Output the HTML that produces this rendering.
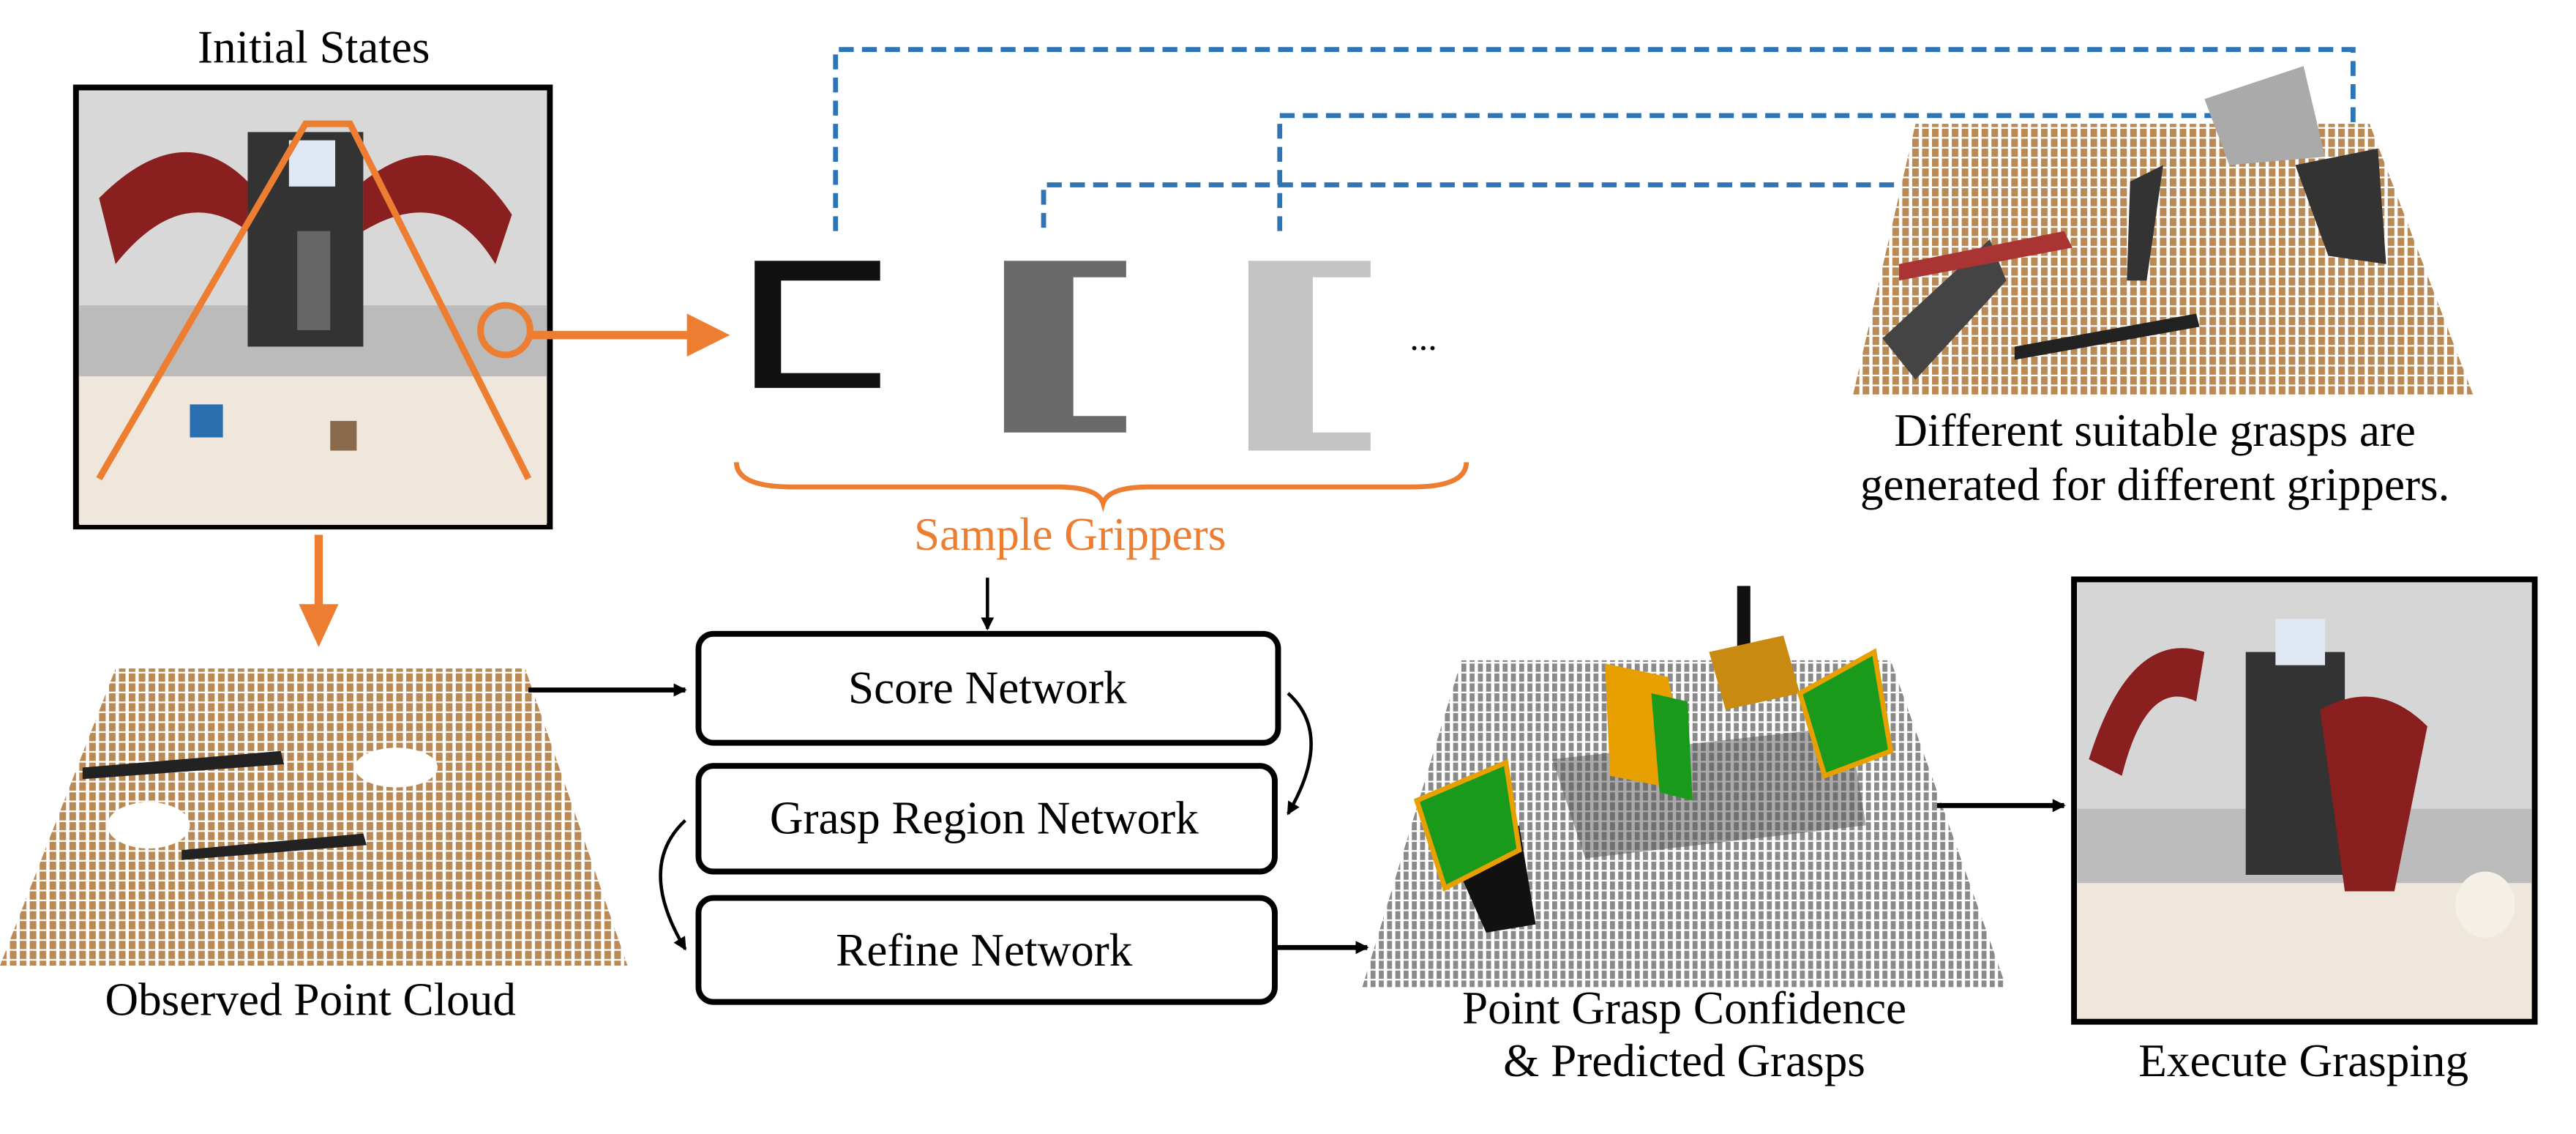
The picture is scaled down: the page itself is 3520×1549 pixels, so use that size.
<!DOCTYPE html>
<html><head><meta charset="utf-8"><style>
html,body{margin:0;padding:0;background:#fff;}
svg{display:block;}
svg text{font-family:"Liberation Serif","Times New Roman",serif;}
</style></head><body>
<svg width="3520" height="1549" viewBox="0 0 1560 687" preserveAspectRatio="none" xmlns="http://www.w3.org/2000/svg" font-family="Liberation Serif, serif">
<defs>
<pattern id="wood" width="6" height="6" patternUnits="userSpaceOnUse">
<rect width="6" height="6" fill="#fff"/><rect width="4" height="5" fill="#b98a55"/>
</pattern>
<pattern id="grey" width="5" height="6" patternUnits="userSpaceOnUse">
<rect width="5" height="6" fill="#fff"/><rect width="3" height="5" fill="#8a8a8a"/>
</pattern>
<marker id="ah" markerWidth="8" markerHeight="8" refX="7" refY="4" orient="auto" markerUnits="userSpaceOnUse">
<path d="M0,0 L8,4 L0,8 z" fill="#000"/></marker>
</defs>

<!-- Initial states -->
<text x="190" y="38" font-size="28" text-anchor="middle" font-family="Liberation Serif, serif">Initial States</text>
<rect x="46" y="53" width="287" height="266" fill="#e9e6e2" stroke="#000" stroke-width="3.5"/>
<rect x="48" y="55" width="283" height="130" fill="#d8d8d8"/>
<rect x="48" y="185" width="283" height="45" fill="#bbb"/>
<rect x="48" y="228" width="283" height="90" fill="#efe6dc"/>
<rect x="150" y="80" width="70" height="130" fill="#333"/>
<rect x="175" y="85" width="28" height="28" fill="#e0e8f4"/>
<path d="M60,120 Q110,70 150,110 L150,140 Q110,110 70,160 z" fill="#8a1f1f"/>
<path d="M220,110 Q270,70 310,130 L300,160 Q270,110 220,140 z" fill="#8a1f1f"/>
<rect x="180" y="140" width="20" height="60" fill="#666"/>
<rect x="115" y="245" width="20" height="20" fill="#2a6fb0"/>
<rect x="200" y="255" width="16" height="18" fill="#8a6a4a"/>
<path d="M60,290 L185,75 L212,75 L320,290" fill="none" stroke="#ed7d31" stroke-width="4"/>
<circle cx="306" cy="200" r="15" fill="none" stroke="#ed7d31" stroke-width="4"/>
<line x1="321" y1="203" x2="418" y2="203" stroke="#ed7d31" stroke-width="5"/>
<path d="M416,190 L442,203 L416,216 z" fill="#ed7d31"/>
<line x1="193" y1="324" x2="193" y2="370" stroke="#ed7d31" stroke-width="5"/>
<path d="M181,366 L193,392 L205,366 z" fill="#ed7d31"/>

<!-- grippers -->
<path d="M457,158 L533,158 L533,170 L473,170 L473,226 L533,226 L533,235 L457,235 z" fill="#111"/>
<path d="M608,158 L682,158 L682,168 L650,168 L650,252 L682,252 L682,262 L608,262 z" fill="#6a6a6a"/>
<path d="M756,158 L830,158 L830,168 L795,168 L795,262 L830,262 L830,273 L756,273 z" fill="#c4c4c4"/>
<text x="862" y="212" font-size="22" text-anchor="middle" font-family="Liberation Serif, serif">...</text>
<path d="M446,280 Q446,295 480,295 L640,295 Q665,295 668,305 Q671,295 696,295 L855,295 Q888,295 888,280" fill="none" stroke="#ed7d31" stroke-width="3"/>
<text x="648" y="333" font-size="28" fill="#ed7d31" text-anchor="middle" font-family="Liberation Serif, serif">Sample Grippers</text>

<!-- dashed lines -->
<g fill="none" stroke="#2e75b6" stroke-width="3" stroke-dasharray="9,5">
<path d="M506,140 L506,30 L1425,30 L1425,215"/>
<path d="M775,140 L775,70 L1378,70 L1378,100"/>
<path d="M632,138 L632,112 L1310,112 L1310,155"/>
</g>

<!-- right top cloud -->
<path d="M1160,75 L1435,75 L1498,240 L1122,240 z" fill="url(#wood)"/>
<path d="M1335,60 L1395,40 L1408,95 L1350,100 z" fill="#aaa"/>
<path d="M1390,100 L1440,90 L1445,160 L1410,155 z" fill="#333"/>
<path d="M1140,205 L1205,145 L1215,170 L1160,230 z" fill="#444"/>
<path d="M1290,110 L1310,100 L1300,170 L1288,170 z" fill="#333"/>
<path d="M1150,160 L1250,140 L1255,150 L1150,170 z" fill="#a33"/>
<path d="M1220,210 L1330,190 L1332,198 L1220,218 z" fill="#222"/>
<g font-size="28" text-anchor="middle" font-family="Liberation Serif, serif">
<text x="1305" y="270">Different suitable grasps are</text>
<text x="1305" y="303">generated for different grippers.</text>
</g>

<!-- left cloud -->
<path d="M70,405 L318,405 L380,585 L0,585 z" fill="url(#wood)"/>
<ellipse cx="90" cy="500" rx="25" ry="14" fill="#fff"/>
<ellipse cx="240" cy="465" rx="25" ry="12" fill="#fff"/>
<path d="M50,465 L170,455 L172,463 L50,472 z" fill="#222"/>
<path d="M110,515 L220,505 L222,512 L110,521 z" fill="#222"/>
<text x="188" y="615" font-size="28" text-anchor="middle" font-family="Liberation Serif, serif">Observed Point Cloud</text>
<line x1="320" y1="418" x2="415" y2="418" stroke="#000" stroke-width="3" marker-end="url(#ah)"/>

<!-- boxes -->
<line x1="598" y1="350" x2="598" y2="381" stroke="#000" stroke-width="2" marker-end="url(#ah)"/>
<g fill="#fff" stroke="#000" stroke-width="3.5">
<rect x="423" y="384" width="351" height="66" rx="9"/>
<rect x="423" y="464" width="349" height="64" rx="9"/>
<rect x="423" y="544" width="349" height="63" rx="9"/>
</g>
<g font-size="28" text-anchor="middle" font-family="Liberation Serif, serif">
<text x="598" y="426">Score Network</text>
<text x="596" y="505">Grasp Region Network</text>
<text x="596" y="585">Refine Network</text>
</g>
<path d="M780,420 Q808,445 780,493" fill="none" stroke="#000" stroke-width="2" marker-end="url(#ah)"/>
<path d="M415,497 Q385,525 415,575" fill="none" stroke="#000" stroke-width="2" marker-end="url(#ah)"/>
<line x1="772" y1="574" x2="828" y2="574" stroke="#000" stroke-width="3" marker-end="url(#ah)"/>

<!-- middle cloud -->
<path d="M885,400 L1145,400 L1215,598 L825,598 z" fill="url(#grey)"/>
<path d="M940,460 L1120,440 L1130,500 L960,520 z" fill="#555" opacity="0.5"/>
<path d="M1052,355 L1060,355 L1060,400 L1052,400 z" fill="#111"/>
<path d="M880,520 L920,500 L930,560 L900,565 z" fill="#111"/>
<path d="M858,485 L912,462 L920,515 L875,538 z" fill="#1a9a1a" stroke="#e8a000" stroke-width="3"/>
<path d="M972,402 L1010,410 L1025,480 L975,470 z" fill="#e8a000"/>
<path d="M1000,420 L1022,425 L1025,485 L1005,480 z" fill="#1a9a1a"/>
<path d="M1035,395 L1080,385 L1090,420 L1045,430 z" fill="#c88a10"/>
<path d="M1090,420 L1135,395 L1145,455 L1105,470 z" fill="#1a9a1a" stroke="#e8a000" stroke-width="3"/>
<g font-size="28" text-anchor="middle" font-family="Liberation Serif, serif">
<text x="1020" y="620">Point Grasp Confidence</text>
<text x="1020" y="652">&amp; Predicted Grasps</text>
</g>
<line x1="1173" y1="488" x2="1250" y2="488" stroke="#000" stroke-width="3" marker-end="url(#ah)"/>

<!-- execute -->
<rect x="1256" y="351" width="279" height="268" fill="#e6e3df" stroke="#000" stroke-width="3.5"/>
<rect x="1258" y="353" width="275" height="140" fill="#d6d6d6"/>
<rect x="1258" y="490" width="275" height="45" fill="#bcbcbc"/>
<rect x="1258" y="535" width="275" height="82" fill="#efe6dc"/>
<rect x="1360" y="395" width="60" height="135" fill="#333"/>
<rect x="1378" y="375" width="30" height="28" fill="#e0e8f4"/>
<path d="M1265,460 Q1290,380 1335,395 L1330,425 Q1300,410 1285,470 z" fill="#8a1f1f"/>
<path d="M1405,430 Q1440,410 1470,440 L1450,540 L1420,540 z" fill="#8a1f1f"/>
<ellipse cx="1505" cy="548" rx="18" ry="20" fill="#f4f0e6"/>
<text x="1395" y="652" font-size="28" text-anchor="middle" font-family="Liberation Serif, serif">Execute Grasping</text>
</svg>
</body></html>
